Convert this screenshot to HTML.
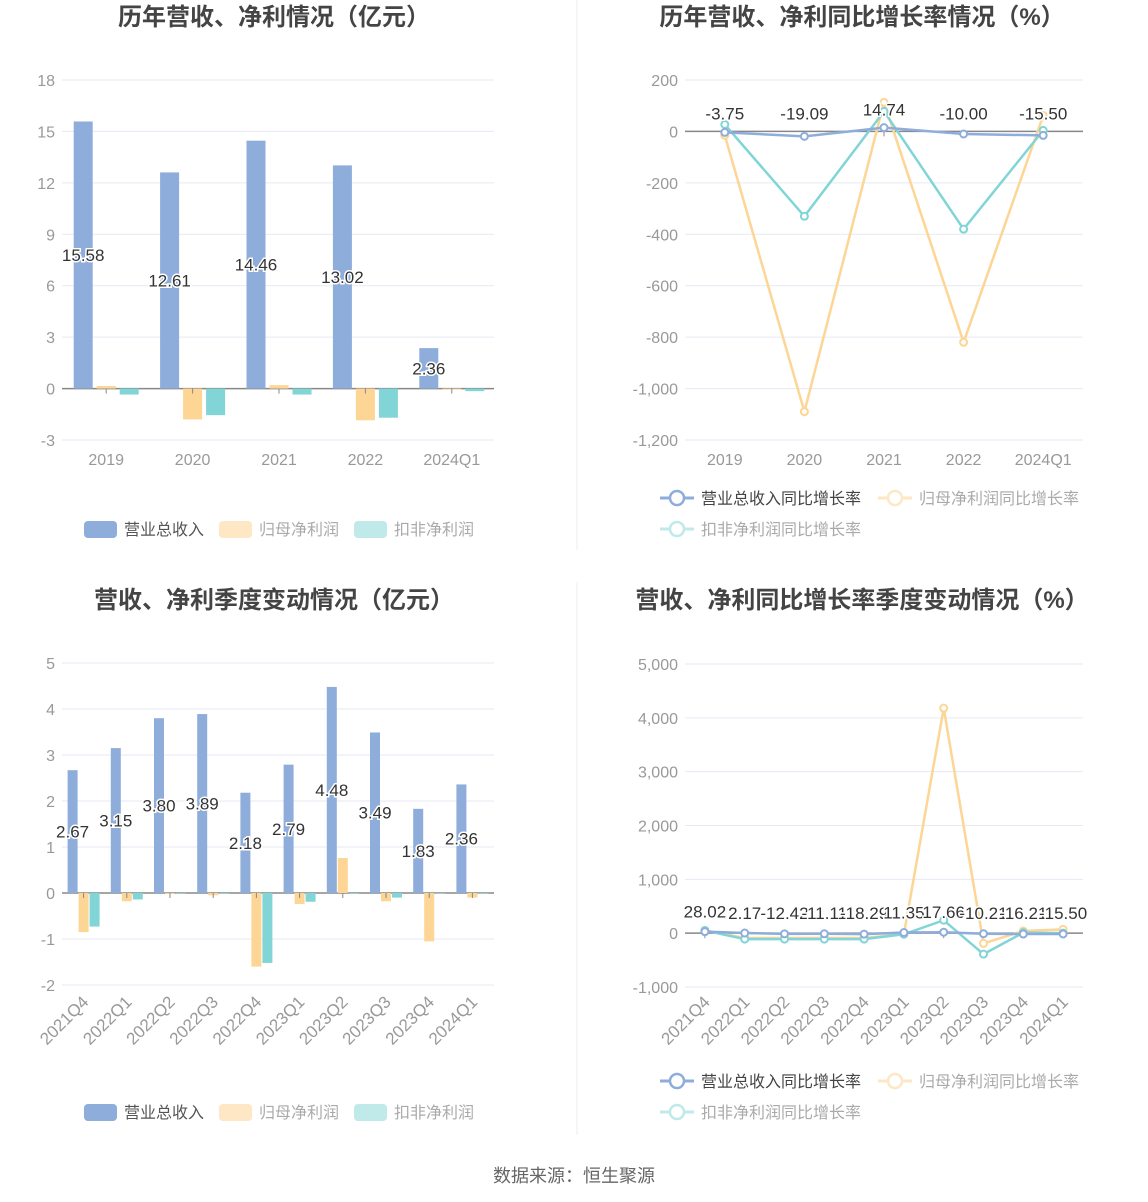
<!DOCTYPE html>
<html><head><meta charset="utf-8">
<style>
html,body{margin:0;padding:0;background:#fff;}
svg{display:block;font-family:"Liberation Sans","Noto Sans CJK SC",sans-serif;}
</style></head>
<body>
<svg id="root" width="1148" height="1202" viewBox="0 0 1148 1202" xmlns="http://www.w3.org/2000/svg">
<line x1="577" y1="0" x2="577" y2="550" stroke="#eeeeee"/>
<line x1="577" y1="582" x2="577" y2="1135" stroke="#eeeeee"/>
<text x="574" y="1182" text-anchor="middle" font-size="18" fill="#666">数据来源：恒生聚源</text>
</svg>
<script>
// ---------- data ----------
const annualCats = ["2019","2020","2021","2022","2024Q1"];
const annualRevenue = [15.58,12.61,14.46,13.02,2.36];
const annualNetProfit = [0.15,-1.8,0.2,-1.85,-0.05];
const annualDeducted = [-0.35,-1.55,-0.35,-1.7,-0.15];
const annualTicks = [18,15,12,9,6,3,0,-3];

const annualRevGrowth = [-3.75,-19.09,14.74,-10.00,-15.50];
const annualNetGrowth = [-15,-1090,113,-820,62];
const annualDedGrowth = [27,-330,78,-380,4];
const annualGrowthTicks = [200,0,-200,-400,-600,-800,-1000,-1200];

const qCats = ["2021Q4","2022Q1","2022Q2","2022Q3","2022Q4","2023Q1","2023Q2","2023Q3","2023Q4","2024Q1"];
const qRevenue = [2.67,3.15,3.80,3.89,2.18,2.79,4.48,3.49,1.83,2.36];
const qNetProfit = [-0.85,-0.18,-0.02,-0.05,-1.6,-0.24,0.76,-0.18,-1.05,-0.1];
const qDeducted = [-0.73,-0.14,-0.01,-0.01,-1.52,-0.19,-0.01,-0.1,0,0];
const qTicks = [5,4,3,2,1,0,-1,-2];

const qRevGrowth = [28.02,2.17,-12.42,-11.11,-18.29,11.35,17.66,-10.21,-16.21,-15.50];
const qNetGrowth = [50,-90,-90,-90,-90,-20,4180,-190,40,70];
const qDedGrowth = [50,-110,-110,-110,-110,-20,240,-390,10,0];
const qGrowthTicks = [5000,4000,3000,2000,1000,0,-1000];

const C = {blue:"#8eaddb", orange:"#fdd594", teal:"#81d5d6"};
const LC = {blue:"#8eaddb", orange:"#fde7c4", teal:"#c0e9ea"};
const NS="http://www.w3.org/2000/svg";
const root=document.getElementById('root');
function el(tag,attrs,parent,text){const e=document.createElementNS(NS,tag);for(const k in attrs)e.setAttribute(k,attrs[k]);if(text!==undefined)e.textContent=text;(parent||root).appendChild(e);return e;}
function fmt(v){return v.toLocaleString('en-US');}

function frame(g,o){
  const y=v=>o.top+(o.max-v)/(o.max-o.min)*(o.bottom-o.top);
  o.ticks.forEach(t=>{
    const ln=el('line',{x1:o.left,x2:o.right,y1:y(t),y2:y(t),stroke:t===0?"#888":"#e6eaf4","stroke-width":t===0?1.5:1},g);
    
    
    const tx=el('text',{x:o.left-7,y:y(t)+6,"text-anchor":"end","font-size":16,fill:"#999"},g,o.comma?fmt(t):String(t));
    
    
  });
  return y;
}
function title(g,x,yy,s){const t=el('text',{x:x,y:yy,"text-anchor":"middle","font-size":24,"font-weight":"bold",fill:"#444"},g,s);}
function xlabels(g,cats,cx,o){
  cats.forEach((c,i)=>{
    const tk=el('line',{x1:cx(i),x2:cx(i),y1:o.zeroY,y2:o.zeroY+5,stroke:"#888"},g);
    
    
    let t;
    if(o.rot){t=el('text',{x:cx(i)+6,y:o.labelY,"text-anchor":"end","font-size":17,fill:"#999",transform:`rotate(-45 ${cx(i)+6} ${o.labelY})`},g,c);}
    else t=el('text',{x:cx(i),y:o.labelY,"text-anchor":"middle","font-size":16,fill:"#999"},g,c);
    
    
  });
}
function barLegend(g,yy){
  const items=[["营业总收入",LC.blue,"#555"],["归母净利润",LC.orange,"#aaa"],["扣非净利润",LC.teal,"#aaa"]];
  items.forEach((it,i)=>{
    const x=84+i*135;
    const lg=el('g',{},g);
    
    
    el('rect',{x:x,y:yy-8,width:33,height:17,rx:4,fill:it[1]},lg);
    el('text',{x:x+40,y:yy+6,"font-size":16,fill:it[2]},lg,it[0]);
  });
}
function lineLegend(g,yy){
  const items=[["营业总收入同比增长率",C.blue,"#444",660,yy],["归母净利润同比增长率",LC.orange,"#aaa",878,yy],["扣非净利润同比增长率",LC.teal,"#aaa",660,yy+31]];
  items.forEach(it=>{
    const lg=el('g',{},g);
    
    
    el('line',{x1:it[3],x2:it[3]+34,y1:it[4],y2:it[4],stroke:it[1],"stroke-width":3},lg);
    el('circle',{cx:it[3]+17,cy:it[4],r:7,fill:"#fff",stroke:it[1],"stroke-width":2.5},lg);
    el('text',{x:it[3]+41,y:it[4]+6,"font-size":16,fill:it[2]},lg,it[0]);
  });
}
function bars(g,cats,series,cx,y,bw,off,names){
  series.forEach((s,si)=>{
    s.data.forEach((v,i)=>{
      const x=cx(i)+off[si]-bw/2, y0=y(0), y1=y(v);
      const r=el('rect',{x:x,y:Math.min(y0,y1),width:bw,height:Math.max(Math.abs(y1-y0),0.5),fill:s.color},g);
      
      
    });
  });
}
function line(g,data,cx,y,color,name){
  const pts=data.map((v,i)=>cx(i)+','+y(v)).join(' ');
  const p=el('polyline',{points:pts,fill:"none",stroke:color,"stroke-width":2.5},g);
  
  
  data.forEach((v,i)=>{
    const c=el('circle',{cx:cx(i),cy:y(v),r:3.5,fill:"#fff",stroke:color,"stroke-width":2},g);
    
    
  });
}
function haloText(g,x,yy,s,name){
  const t=el('text',{x:x,y:yy,"text-anchor":"middle","font-size":17,fill:"#333",stroke:"#fff","stroke-width":3,"paint-order":"stroke"},g,s);
  
  
}

// ---------- chart 1 ----------
(function(){
  const g=el('g',{});
  
  
  title(g,274,25,"历年营收、净利情况（亿元）");
  const o={left:62,right:494,top:80,bottom:440,max:18,min:-3,ticks:annualTicks};
  const y=frame(g,o);
  const bw=(o.right-o.left)/annualCats.length;
  const cx=i=>o.left+bw*(i+0.5)+1;
  bars(g,annualCats,[{data:annualRevenue,color:C.blue},{data:annualNetProfit,color:C.orange},{data:annualDeducted,color:C.teal}],cx,y,19,[-23,0,23],['revenue','net-profit','deducted-profit']);
  xlabels(g,annualCats,cx,{zeroY:y(0),labelY:465});
  annualRevenue.forEach((v,i)=>haloText(g,cx(i)-23,(y(v)+y(0))/2+6,v.toFixed(2),'revenue-value-label'));
  barLegend(g,529);
})();

// ---------- chart 2 ----------
(function(){
  const g=el('g',{});
  
  
  title(g,862,25,"历年营收、净利同比增长率情况（%）");
  const o={left:685,right:1083,top:80,bottom:440,max:200,min:-1200,ticks:annualGrowthTicks,comma:true};
  const y=frame(g,o);
  const bw=(o.right-o.left)/annualCats.length;
  const cx=i=>o.left+bw*(i+0.5);
  xlabels(g,annualCats,cx,{zeroY:y(0),labelY:465});
  line(g,annualNetGrowth,cx,y,C.orange,'net-profit-growth');
  line(g,annualDedGrowth,cx,y,C.teal,'deducted-profit-growth');
  line(g,annualRevGrowth,cx,y,C.blue,'revenue-growth');
  annualRevGrowth.forEach((v,i)=>haloText(g,cx(i),y(Math.max(v,0))-12,v.toFixed(2),'revenue-growth-label'));
  lineLegend(g,498);
})();

// ---------- chart 3 ----------
(function(){
  const g=el('g',{});
  
  
  title(g,274,608,"营收、净利季度变动情况（亿元）");
  const o={left:62,right:494,top:663,bottom:985,max:5,min:-2,ticks:qTicks};
  const y=frame(g,o);
  const bw=(o.right-o.left)/qCats.length;
  const cx=i=>o.left+bw*(i+0.5);
  bars(g,qCats,[{data:qRevenue,color:C.blue},{data:qNetProfit,color:C.orange},{data:qDeducted,color:C.teal}],cx,y,10,[-11,0,11],['revenue','net-profit','deducted-profit']);
  xlabels(g,qCats,cx,{zeroY:y(0),labelY:1003,rot:true});
  qRevenue.forEach((v,i)=>haloText(g,cx(i)-11,(y(v)+y(0))/2+6,v.toFixed(2),'revenue-value-label'));
  barLegend(g,1112);
})();

// ---------- chart 4 ----------
(function(){
  const g=el('g',{});
  
  
  title(g,862,608,"营收、净利同比增长率季度变动情况（%）");
  const o={left:685,right:1083,top:664,bottom:987,max:5000,min:-1000,ticks:qGrowthTicks,comma:true};
  const y=frame(g,o);
  const bw=(o.right-o.left)/qCats.length;
  const cx=i=>o.left+bw*(i+0.5);
  xlabels(g,qCats,cx,{zeroY:y(0),labelY:1003,rot:true});
  line(g,qNetGrowth,cx,y,C.orange,'net-profit-growth');
  line(g,qDedGrowth,cx,y,C.teal,'deducted-profit-growth');
  line(g,qRevGrowth,cx,y,C.blue,'revenue-growth');
  qRevGrowth.forEach((v,i)=>haloText(g,cx(i),y(Math.max(v,0))-14,v.toFixed(2),'revenue-growth-label'));
  lineLegend(g,1081);
})();
</script>
</body></html>
